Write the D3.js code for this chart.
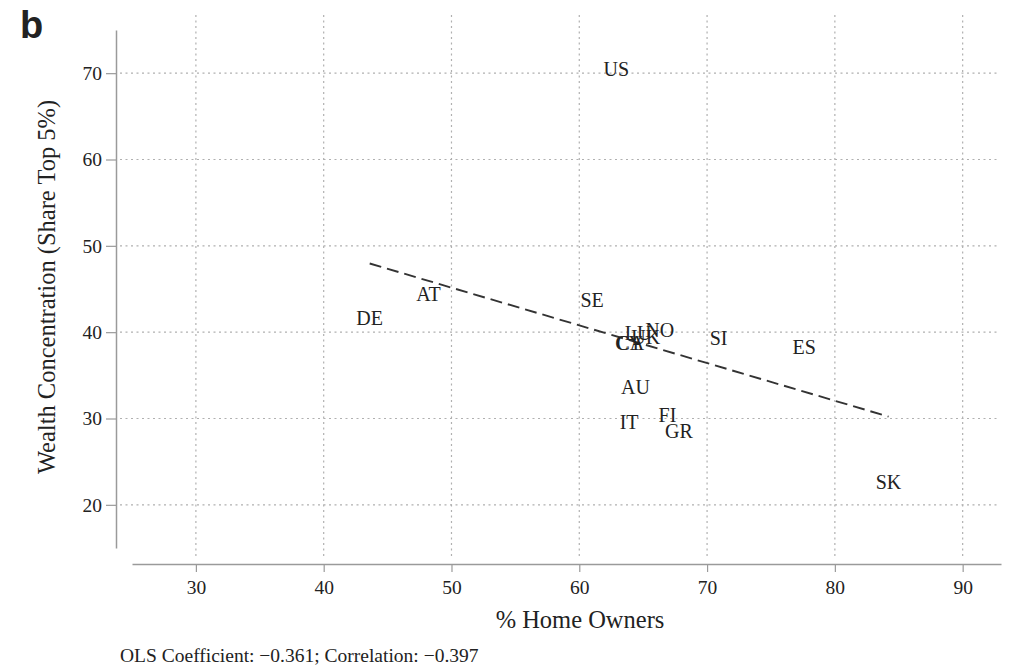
<!DOCTYPE html>
<html>
<head>
<meta charset="utf-8">
<script src="https://cdn.jsdelivr.net/npm/d3@7"></script>
<style>
  html, body { margin: 0; padding: 0; background: #fff; }
  svg { display: block; }
  text { font-family: "Liberation Serif", "Times New Roman", serif; fill: #222; }
</style>
</head>
<body>
<svg id="chart" width="1032" height="672"></svg>
<script>
// Country codes, home ownership rate (%) and top-5% wealth share (%)
const countries = ["US", "AT", "DE", "SE", "NO", "LU", "UK", "CA", "CY", "SI", "ES", "AU", "IT", "FI", "GR", "SK"];
const homeOwners = [62.9, 48.2, 43.6, 61.0, 66.3, 64.6, 65.2, 64.0, 63.9, 70.9, 77.6, 64.4, 63.9, 66.9, 67.8, 84.2];
const top5Share = [70.5, 44.4, 41.6, 43.7, 40.2, 39.9, 39.4, 38.7, 38.8, 39.3, 38.3, 33.7, 29.6, 30.4, 28.6, 22.6];

const xTicks = [30, 40, 50, 60, 70, 80, 90];
const yTicks = [20, 30, 40, 50, 60, 70];

const svg = d3.select("#chart");

const x = d3.scaleLinear().domain([25, 93]).range([132, 1001]);
const y = d3.scaleLinear().domain([15, 75]).range([548, 30]);

// dotted reference grid
const grid = svg.append("g")
  .attr("stroke", "#b0b0b0")
  .attr("stroke-width", 1.2)
  .attr("stroke-dasharray", "2,3.5");
grid.selectAll("line.h").data(yTicks).join("line")
  .attr("class", "h")
  .attr("x1", 120).attr("x2", 1000)
  .attr("y1", d => y(d)).attr("y2", d => y(d));
grid.selectAll("line.v").data(xTicks).join("line")
  .attr("class", "v")
  .attr("x1", d => x(d)).attr("x2", d => x(d))
  .attr("y1", 15).attr("y2", 558);

// y axis
const yAxis = svg.append("g")
  .attr("transform", "translate(116,0)")
  .call(d3.axisLeft(y).tickValues(yTicks).tickSize(10).tickPadding(4).tickSizeOuter(0));
yAxis.select(".domain").attr("stroke", "#9a9a9a").attr("stroke-width", 1.5);
yAxis.selectAll(".tick line").attr("stroke", "#9a9a9a").attr("stroke-width", 1.2);
yAxis.selectAll(".tick text")
  .attr("font-family", "Liberation Serif, serif")
  .attr("font-size", 19.5).attr("fill", "#222");

// x axis
const xAxis = svg.append("g")
  .attr("transform", "translate(0,564)")
  .call(d3.axisBottom(x).tickValues(xTicks).tickSize(8).tickPadding(8).tickSizeOuter(0));
xAxis.select(".domain").attr("stroke", "#9a9a9a").attr("stroke-width", 1.5);
xAxis.selectAll(".tick line").attr("stroke", "#9a9a9a").attr("stroke-width", 1.2);
xAxis.selectAll(".tick text")
  .attr("font-family", "Liberation Serif, serif")
  .attr("font-size", 19.5).attr("fill", "#222");

// OLS fit over the observed range
const n = homeOwners.length;
const mx = d3.mean(homeOwners), my = d3.mean(top5Share);
let sxy = 0, sxx = 0;
for (let i = 0; i < n; i++) {
  sxy += (homeOwners[i] - mx) * (top5Share[i] - my);
  sxx += (homeOwners[i] - mx) ** 2;
}
const slope = sxy / sxx, intercept = my - slope * mx;
const [xmin, xmax] = d3.extent(homeOwners);
svg.append("line")
  .attr("x1", x(xmin)).attr("y1", y(intercept + slope * xmin))
  .attr("x2", x(xmax)).attr("y2", y(intercept + slope * xmax))
  .attr("stroke", "#333").attr("stroke-width", 1.9)
  .attr("stroke-dasharray", "12,6");

// country labels placed at their data points
svg.append("g").selectAll("text").data(countries).join("text")
  .attr("x", (d, i) => x(homeOwners[i]))
  .attr("y", (d, i) => y(top5Share[i]))
  .attr("text-anchor", "middle")
  .attr("dominant-baseline", "central")
  .attr("font-size", 20)
  .text(d => d);

// axis titles
svg.append("text")
  .attr("x", 580).attr("y", 628)
  .attr("text-anchor", "middle")
  .attr("font-size", 24.5)
  .text("% Home Owners");

svg.append("text")
  .attr("transform", "translate(55,287) rotate(-90)")
  .attr("text-anchor", "middle")
  .attr("font-size", 24.5)
  .text("Wealth Concentration (Share Top 5%)");

// footnote
svg.append("text")
  .attr("x", 120).attr("y", 662)
  .attr("font-size", 19.5)
  .text("OLS Coefficient: \u22120.361; Correlation: \u22120.397");

// panel letter
svg.append("text")
  .attr("x", 20).attr("y", 38)
  .attr("font-weight", "bold")
  .attr("font-size", 38)
  .attr("fill", "#1a1a1a")
  .style("font-family", "Liberation Sans, Arial, sans-serif")
  .text("b");
</script>
</body>
</html>
